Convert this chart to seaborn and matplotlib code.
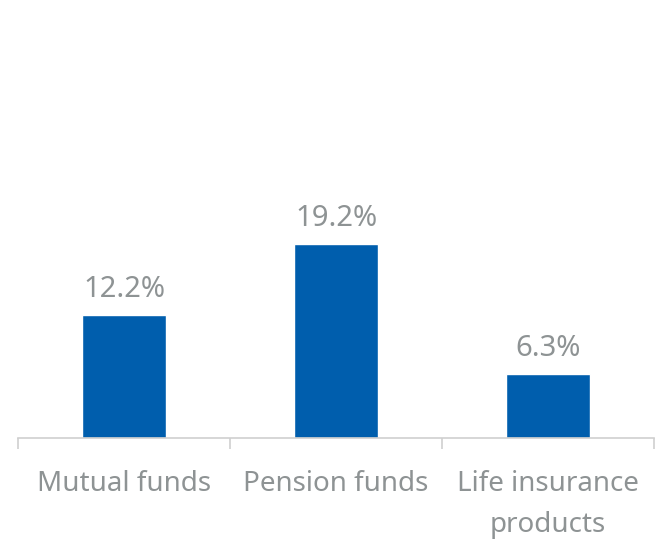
"""Bar chart: share by product category."""
import matplotlib
matplotlib.use('Agg')
import matplotlib.pyplot as plt
import seaborn as sns

CATEGORIES = ['Mutual funds', 'Pension funds', 'Life insurance\nproducts']
VALUES = [12.2, 19.2, 6.3]

BAR_COLOR = '#005EAD'
TEXT_COLOR = '#8E9394'
AXIS_COLOR = '#CFCFCF'

sns.set_style('white')
plt.rcParams['font.family'] = ['Noto Sans', 'DejaVu Sans']

fig = plt.figure(figsize=(6.7, 5.39), dpi=100)
ax = fig.add_axes([18 / 670, 101 / 539, 636 / 670, 438 / 539])

sns.barplot(x=CATEGORIES, y=VALUES, color=BAR_COLOR, width=0.4,
            saturation=1, ax=ax)

for c in ax.containers:
    ax.bar_label(c, labels=[f'{v:.1f}%' for v in VALUES], padding=8,
                 fontsize=21, color=TEXT_COLOR)

ax.set_xlim(-0.5, 2.5)
ax.set_ylim(0, 43.4)
ax.set_yticks([])
for side in ['top', 'right', 'left']:
    ax.spines[side].set_visible(False)
ax.spines['bottom'].set_color(AXIS_COLOR)
ax.spines['bottom'].set_linewidth(1.2)

ax.tick_params(axis='x', which='both', bottom=True)
ax.tick_params(axis='x', which='major', length=0, pad=23,
               labelsize=20, labelcolor=TEXT_COLOR)
ax.set_xticks([-0.5, 0.5, 1.5, 2.5], minor=True)
ax.tick_params(axis='x', which='minor', length=8, width=1.2,
               color=AXIS_COLOR, direction='out')
for lbl in ax.get_xticklabels():
    lbl.set_linespacing(1.6)
ax.set_xlabel('')
ax.set_ylabel('')

fig.savefig('out.png', dpi=100)
plt.close(fig)
